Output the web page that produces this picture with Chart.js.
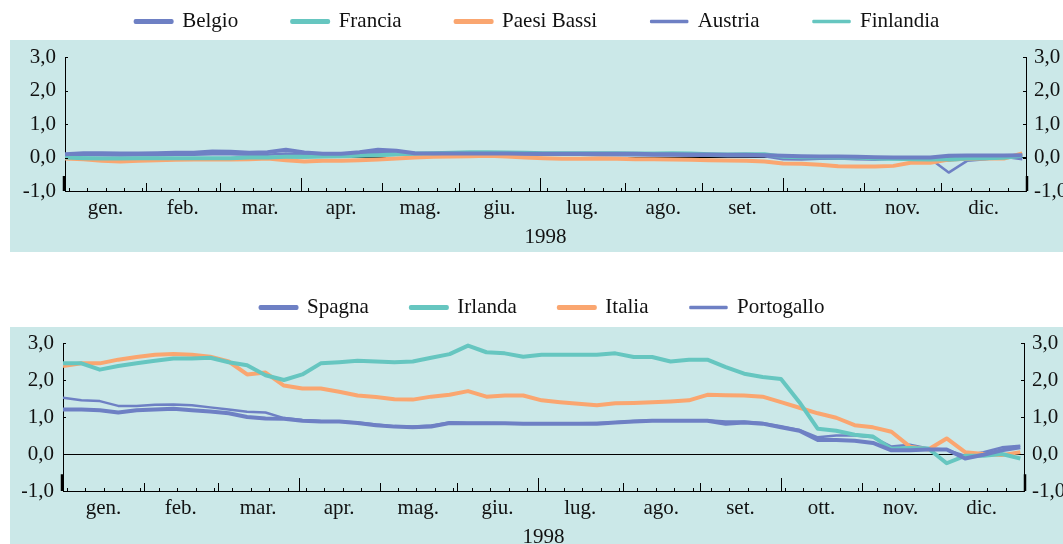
<!DOCTYPE html>
<html>
<head>
<meta charset="utf-8">
<script src="https://cdn.jsdelivr.net/npm/chart.js@4.4.1/dist/chart.umd.min.js"></script>
<style>
html, body { margin: 0; padding: 0; background: #fff; overflow: hidden; width: 1063px; height: 544px; }
.bg { position: absolute; left: 10px; width: 1053px; background: #cbe8e8; }
canvas { position: absolute; left: 0; }
</style>
</head>
<body>
<div class="bg" style="top:40px;height:212px"></div>
<div class="bg" style="top:327px;height:217px"></div>
<canvas id="chartTop" width="1063" height="291" style="top:-43px"></canvas>
<canvas id="chartBottom" width="1063" height="293" style="top:255px"></canvas>
<script>
// business-day index of each reading (1998, weekly)
var days = [0,5,10,15,20,25,30,35,40,45,50,55,60,65,70,75,80,85,90,95,
  100,105,110,115,120,125,130,135,140,145,150,155,160,165,170,175,180,185,190,195,
  200,205,210,215,220,225,230,235,240,245,250,255,260];

// month boundaries (business days) and labels
var monthEnds = [0,22,42,64,86,107,129,152,173,195,217,238,261];
var monthLabels = ['gen.','feb.','mar.','apr.','mag.','giu.','lug.','ago.','set.','ott.','nov.','dic.'];
var yearLabel = '1998';
var weekStart = 1;

// upper panel
var belgio = [0.10,0.13,0.13,0.12,0.12,0.13,0.14,0.14,0.18,0.17,
  0.14,0.16,0.23,0.15,0.11,0.11,0.16,0.23,0.20,0.13,
  0.12,0.12,0.12,0.12,0.12,0.11,0.11,0.11,0.11,0.11,
  0.11,0.11,0.10,0.10,0.09,0.09,0.08,0.08,0.07,0.05,
  0.04,0.03,0.03,0.02,0.01,0.00,0.00,0.00,0.05,0.06,
  0.06,0.06,0.07];
var francia = [0.00,-0.02,-0.03,-0.03,-0.02,-0.02,-0.02,-0.02,-0.02,-0.02,
  0.00,0.00,0.02,0.02,0.03,0.04,0.05,0.07,0.10,0.12,
  0.13,0.14,0.16,0.16,0.15,0.14,0.13,0.13,0.13,0.13,
  0.13,0.12,0.12,0.13,0.12,0.10,0.09,0.10,0.10,0.02,
  0.01,0.01,0.00,0.00,-0.02,-0.03,-0.05,-0.06,-0.05,-0.03,
  -0.02,-0.01,0.05];
var paesiBassi = [-0.03,-0.05,-0.10,-0.12,-0.10,-0.08,-0.07,-0.06,-0.05,-0.06,
  -0.05,-0.03,-0.08,-0.12,-0.10,-0.10,-0.08,-0.06,-0.03,0.00,
  0.02,0.03,0.04,0.05,0.03,0.00,-0.02,-0.04,-0.04,-0.03,
  -0.04,-0.05,-0.05,-0.06,-0.07,-0.08,-0.09,-0.10,-0.12,-0.18,
  -0.19,-0.22,-0.26,-0.27,-0.27,-0.25,-0.15,-0.16,-0.06,-0.04,
  -0.03,-0.03,0.12];
var austria = [0.08,0.08,0.07,0.06,0.07,0.07,0.08,0.08,0.10,0.10,
  0.08,0.08,0.12,0.10,0.07,0.08,0.10,0.15,0.12,0.10,
  0.10,0.09,0.10,0.10,0.09,0.09,0.08,0.08,0.08,0.07,
  0.07,0.07,0.06,0.06,0.05,0.05,0.04,0.04,0.04,-0.05,
  -0.06,-0.04,-0.03,-0.05,-0.06,-0.03,-0.02,-0.04,-0.45,-0.10,
  -0.05,0.02,-0.05];
var finlandia = [0.03,0.00,-0.02,-0.03,-0.02,-0.03,-0.04,-0.03,-0.03,-0.04,
  -0.04,-0.03,0.00,0.00,0.02,0.03,0.05,0.06,0.08,0.08,
  0.10,0.12,0.13,0.12,0.12,0.12,0.12,0.11,0.11,0.10,
  0.10,0.10,0.09,0.09,0.09,0.08,0.07,0.06,0.05,0.00,
  -0.02,-0.02,-0.03,-0.03,-0.05,-0.06,-0.07,-0.08,-0.10,-0.05,
  -0.03,-0.02,0.08];

// lower panel
var spagna = [1.20,1.20,1.18,1.12,1.18,1.20,1.22,1.18,1.15,1.10,
  1.00,0.96,0.95,0.90,0.88,0.88,0.84,0.78,0.74,0.72,
  0.74,0.84,0.83,0.83,0.83,0.82,0.82,0.82,0.82,0.82,
  0.85,0.88,0.90,0.90,0.90,0.90,0.82,0.85,0.82,0.72,
  0.63,0.38,0.38,0.36,0.30,0.10,0.10,0.12,0.12,-0.12,
  -0.02,0.10,0.18];
var irlanda = [2.45,2.45,2.28,2.38,2.45,2.52,2.58,2.58,2.60,2.48,
  2.40,2.13,2.00,2.15,2.45,2.48,2.52,2.50,2.48,2.50,
  2.60,2.70,2.93,2.75,2.72,2.63,2.68,2.68,2.68,2.68,
  2.72,2.62,2.62,2.50,2.55,2.55,2.35,2.17,2.08,2.03,
  1.40,0.68,0.63,0.52,0.47,0.14,0.16,0.15,-0.25,-0.05,
  -0.05,0.00,-0.12];
var italia = [2.38,2.45,2.45,2.55,2.62,2.68,2.70,2.68,2.63,2.50,
  2.15,2.20,1.85,1.77,1.77,1.68,1.58,1.54,1.48,1.47,
  1.55,1.60,1.70,1.55,1.58,1.58,1.45,1.40,1.36,1.32,
  1.37,1.38,1.40,1.42,1.45,1.60,1.59,1.58,1.55,1.40,
  1.25,1.10,0.98,0.78,0.72,0.60,0.20,0.12,0.42,0.05,
  0.00,-0.03,0.05];
var portogallo = [1.52,1.45,1.43,1.30,1.30,1.33,1.34,1.32,1.26,1.20,
  1.14,1.12,0.97,0.92,0.89,0.88,0.85,0.80,0.75,0.74,
  0.77,0.85,0.84,0.84,0.83,0.83,0.83,0.83,0.83,0.84,
  0.86,0.89,0.91,0.91,0.91,0.91,0.88,0.88,0.84,0.75,
  0.65,0.45,0.50,0.50,0.45,0.20,0.25,0.15,0.12,-0.05,
  0.05,0.18,0.22];

var BLUE = '#6e80c4', TEAL = '#66c6c0', ORANGE = '#faa670';
var FONT = { family: "'Liberation Serif', 'Times New Roman', serif", size: 21 };
var AXFONT = { family: "'Liberation Serif', 'Times New Roman', serif", size: 21, lineHeight: 1 };
var INK = '#111';

// tick marks drawn inward: weeks, months, quarters
var axisTicks = {
  id: 'axisTicks',
  afterDraw: function(chart) {
    var ctx = chart.ctx, a = chart.chartArea, x = chart.scales.x, y = chart.scales.y;
    ctx.save();
    ctx.strokeStyle = '#000';
    ctx.lineWidth = 1;
    ctx.beginPath();
    var mark = function(d, len) {
      var px = Math.round(x.getPixelForValue(d)) + 0.5;
      ctx.moveTo(px, a.bottom);
      ctx.lineTo(px, a.bottom - len);
    };
    for (var d = weekStart; d < x.max; d += 5) mark(d, 3);
    monthEnds.forEach(function(m, i) {
      if (i > 0 && i < monthEnds.length - 1) mark(m, i % 3 === 0 ? 13 : 8);
    });
    y.ticks.forEach(function(t) {
      var py = Math.round(y.getPixelForValue(t.value)) + 0.5;
      ctx.moveTo(a.left, py); ctx.lineTo(a.left + 3, py);
      ctx.moveTo(a.right, py); ctx.lineTo(a.right - 3, py);
    });
    ctx.stroke();
    ctx.lineWidth = 2.5;
    ctx.beginPath();
    var y0 = y.getPixelForValue(-1), y1 = y.getPixelForValue(-0.55);
    ctx.moveTo(a.left - 1, y0); ctx.lineTo(a.left - 1, y1);
    ctx.moveTo(a.right + 1, y0); ctx.lineTo(a.right + 1, y1);
    ctx.stroke();
    ctx.restore();
  }
};

var commaTick = function(v) { return v.toFixed(1).replace('.', ','); };

function buildChart(id, names, values, colors, widths, legendGap, padLeft, leftWidth, rightWidth) {
  var datasets = names.map(function(n, i) {
    return {
      label: n,
      data: days.map(function(d, k) { return { x: d, y: values[i][k] }; }),
      borderColor: colors[i],
      backgroundColor: colors[i],
      borderWidth: widths[i],
      borderJoinStyle: 'round',
      pointRadius: 0,
      tension: 0,
      xAxisID: 'x',
      yAxisID: 'y'
    };
  });
  return new Chart(document.getElementById(id), {
    type: 'line',
    data: { datasets: datasets },
    plugins: [axisTicks],
    options: {
      responsive: false,
      animation: false,
      devicePixelRatio: 1,
      layout: { padding: { left: padLeft } },
      plugins: {
        legend: {
          position: 'top',
          labels: { boxWidth: 36, boxHeight: 1, padding: legendGap, color: INK, font: FONT }
        },
        tooltip: { enabled: false }
      },
      scales: {
        x: {
          type: 'linear',
          position: 'bottom',
          min: 0,
          max: 261,
          afterBuildTicks: function(s) {
            s.ticks = monthLabels.map(function(l, i) {
              return { value: (monthEnds[i] + monthEnds[i + 1]) / 2 };
            });
          },
          ticks: {
            autoSkip: false, maxRotation: 0, padding: 7, color: INK, font: AXFONT,
            callback: function(v, i) { return monthLabels[i]; }
          },
          grid: { display: false, drawTicks: false },
          border: { display: true, color: '#000', width: 1 },
          title: { display: true, text: yearLabel, color: INK, font: AXFONT, padding: { top: 1, bottom: 0 } }
        },
        xGap: {
          type: 'linear',
          position: 'top',
          ticks: { display: false },
          grid: { display: false, drawTicks: false },
          border: { display: false },
          afterFit: function(s) { s.height = 15; }
        },
        y: {
          position: 'left',
          min: -1, max: 3,
          ticks: { stepSize: 1, padding: 9, color: INK, font: FONT, callback: commaTick },
          grid: {
            drawTicks: false,
            color: function(c) { return c.tick && c.tick.value === 0 ? '#000' : 'rgba(0,0,0,0)'; }
          },
          border: { display: true, color: '#000', width: 1 },
          afterFit: function(s) { s.width = leftWidth; }
        },
        y2: {
          position: 'right',
          min: -1, max: 3,
          ticks: { stepSize: 1, padding: 8, color: INK, font: FONT, callback: commaTick },
          grid: { display: false, drawTicks: false },
          border: { display: true, color: '#000', width: 1 },
          afterFit: function(s) { s.width = rightWidth; }
        }
      }
    }
  });
}

buildChart('chartTop',
  ['Belgio', 'Francia', 'Paesi Bassi', 'Austria', 'Finlandia'],
  [belgio, francia, paesiBassi, austria, finlandia],
  [BLUE, TEAL, ORANGE, BLUE, TEAL],
  [4, 4, 4, 2.5, 2.5],
  54, 12, 53, 37);

buildChart('chartBottom',
  ['Spagna', 'Irlanda', 'Italia', 'Portogallo'],
  [spagna, irlanda, italia, portogallo],
  [BLUE, TEAL, ORANGE, BLUE],
  [4, 4, 4, 2.5],
  42, 22, 41, 39);
</script>
</body>
</html>
